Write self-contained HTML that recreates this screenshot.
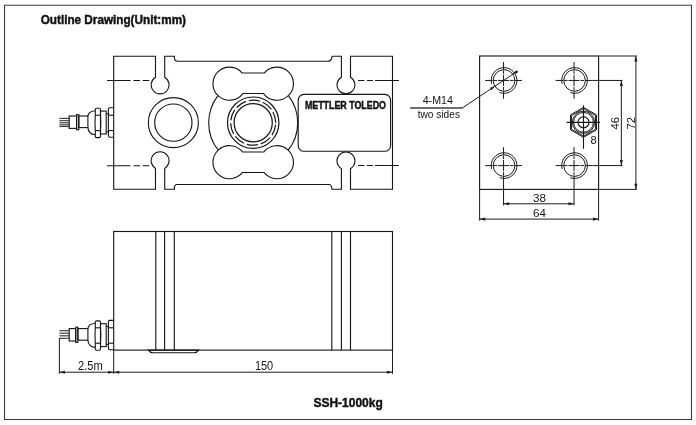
<!DOCTYPE html>
<html lang="en"><head><meta charset="utf-8"><title>Outline Drawing</title>
<style>
html,body{margin:0;padding:0;background:#fff}
svg{display:block;will-change:transform}
.b{fill:none;stroke:#3a3a3a;stroke-width:1.1}
.m{fill:none;stroke:#161616;stroke-width:1.12}
.r{fill:none;stroke:#161616;stroke-width:1.22}
.n{fill:none;stroke:#1e1e1e;stroke-width:1}
.g{fill:none;stroke:#3c3c3c;stroke-width:1.5}
.c{fill:none;stroke:#1a1a1a;stroke-width:1}
.w{fill:none;stroke:#333;stroke-width:1.1}
.ah{fill:#1c1c1c;stroke:none}
.t{font-family:"Liberation Sans",sans-serif;fill:#141414}
.tb{font-family:"Liberation Sans",sans-serif;font-weight:bold;fill:#111;stroke:#111;stroke-width:.45}
</style></head>
<body>
<svg width="696" height="425" viewBox="0 0 696 425">
<rect x="0" y="0" width="696" height="425" fill="#fff"/>
<path class="b" d="M4.5,419.45L4.5,5.25L691.5,5.25L691.5,419.45Z"/>
<text class="tb" x="40.7" y="24.2" font-size="13" textLength="145.3" lengthAdjust="spacingAndGlyphs">Outline Drawing(Unit:mm)</text>
<text class="tb" x="313.4" y="407" font-size="13.7" textLength="69.4" lengthAdjust="spacingAndGlyphs">SSH-1000kg</text>
<path class="m" d="M113.7,189.2L113.7,56.3L155.5,56.3L155.5,77.27A8.95,8.95 0 1 0 164.7,77.27L164.7,56.3L174.4,56.3L174.4,58.3Q174.6,61.3 178.2,61.3L327.6,61.3Q331.4,61.3 331.8,57.4L332.1,56.3L341.4,56.3L341.4,77.24A8.95,8.95 0 1 0 350.5,77.24L350.5,56.3L392.5,56.3L392.5,189.2L350.5,189.2L350.5,168.71A8.95,8.95 0 1 0 341.4,168.71L341.4,189.2L332,189.2L331.5,186.4L329.8,184.5L176.1,184.5L174.4,186.4L174.4,189.2L164.7,189.2L164.7,168.43A8.95,8.95 0 1 0 155.5,168.43L155.5,189.2Z"/>
<line class="m" x1="107" y1="80.5" x2="149.3" y2="80.5" stroke-dasharray="23.6 3 6.5 2.6 6.6"/>
<line class="m" x1="398.8" y1="80.5" x2="358" y2="80.5" stroke-dasharray="23.7 2.2 6 2.5 6.5"/>
<line class="m" x1="107" y1="165.8" x2="149.3" y2="165.8" stroke-dasharray="23.6 3 6.5 2.6 6.6"/>
<line class="m" x1="398.8" y1="165.5" x2="358" y2="165.5" stroke-dasharray="23.7 2.2 6 2.5 6.5"/>
<circle class="m" cx="173.35" cy="122.65" r="25"/>
<circle class="m" cx="173.35" cy="122.65" r="18.65"/>
<circle class="r" cx="253.2" cy="122.7" r="25.7"/>
<circle class="r" cx="253.2" cy="122.7" r="19.1"/>
<circle class="r" cx="253.2" cy="122.7" r="22.5" stroke-dasharray="11.2 2.94" stroke-dashoffset="-2"/>
<path class="m" d="M242.17,73.05L264.23,73.05A16.55,16.55 0 1 1 263.6,93.55L242.8,93.55A16.55,16.55 0 1 1 242.17,73.05Z"/>
<path class="m" d="M242.49,151.95L263.91,151.95A16.55,16.55 0 1 1 263.91,172.45L242.49,172.45A16.55,16.55 0 1 1 242.49,151.95Z"/>
<path class="m" d="M217.94,95.55A44.5,44.5 0 0 0 218.17,150.14"/>
<path class="m" d="M288.46,95.55A44.5,44.5 0 0 1 288.23,150.14"/>
<rect class="m" x="298.2" y="94.4" width="92.4" height="56.85" rx="5.8" ry="5.8"/>
<text class="tb" x="304.9" y="109.4" font-size="11.3" textLength="81.1" lengthAdjust="spacingAndGlyphs">METTLER TOLEDO</text>
<line class="w" x1="59.4" y1="118.4" x2="69.2" y2="118.4"/>
<line class="w" x1="59.4" y1="120.7" x2="69.2" y2="120.7"/>
<line class="w" x1="59.4" y1="122.8" x2="69.2" y2="122.8"/>
<line class="w" x1="59.4" y1="124.8" x2="69.2" y2="124.8"/>
<line class="w" x1="59.4" y1="126.5" x2="69.2" y2="126.5"/>
<rect class="m" x="69.2" y="116" width="7.4" height="12.4"/>
<rect class="m" x="76.6" y="114.6" width="2.2" height="15.2"/>
<rect class="m" x="78.8" y="116" width="9.1" height="11.6"/>
<path class="m" d="M95,110.7Q88.4,111.4 87.9,116M87.9,127.6Q88.4,134 95,134.8"/>
<path class="m" d="M95.3,109.5Q95.4,108.3 96.4,108.3L99.4,108.3Q100.4,108.3 100.5,109.5L100.5,115.2Q101.1,122.8 100.5,130.6L100.5,136.4Q100.4,137.6 99.4,137.6L96.4,137.6Q95.4,137.6 95.3,136.4L95.3,130.6Q94.7,122.8 95.3,115.2Z"/>
<line class="m" x1="95" y1="115.2" x2="100.8" y2="115.2"/>
<line class="m" x1="95" y1="130.6" x2="100.8" y2="130.6"/>
<rect class="m" x="100.5" y="111.1" width="5.7" height="22.9"/>
<path class="m" d="M113.7,107.8L109.5,107.8Q108.5,108 108.4,109.2L108.4,135.8Q108.5,137 109.5,137.2L113.7,137.2"/>
<line class="m" x1="106.2" y1="113.8" x2="108.4" y2="113.8"/>
<line class="m" x1="106.2" y1="131.8" x2="108.4" y2="131.8"/>
<line class="m" x1="108.4" y1="115.2" x2="113.7" y2="115.2"/>
<line class="m" x1="108.4" y1="130.6" x2="113.7" y2="130.6"/>
<rect class="m" x="479.6" y="56.0" width="119" height="133.4"/>
<circle class="c" cx="504.05" cy="80.45" r="10.8"/>
<path class="c" d="M491.64,83.78A12.85,12.85 0 1 1 499.66,92.53"/>
<line class="c" x1="485.15" y1="80.45" x2="521.95" y2="80.45" stroke-dasharray="7.5 .9 3.5 .9 11.2 .9 3.5 .9 7.5"/>
<line class="c" x1="503.55" y1="62.05" x2="503.55" y2="98.85" stroke-dasharray="7.5 .9 3.5 .9 11.2 .9 3.5 .9 7.5"/>
<circle class="c" cx="574.55" cy="80.45" r="10.8"/>
<path class="c" d="M562.14,83.78A12.85,12.85 0 1 1 570.16,92.53"/>
<line class="c" x1="555.65" y1="80.45" x2="592.45" y2="80.45" stroke-dasharray="7.5 .9 3.5 .9 11.2 .9 3.5 .9 7.5"/>
<line class="c" x1="574.05" y1="62.05" x2="574.05" y2="98.85" stroke-dasharray="7.5 .9 3.5 .9 11.2 .9 3.5 .9 7.5"/>
<circle class="c" cx="504.05" cy="165.6" r="10.8"/>
<path class="c" d="M491.64,168.93A12.85,12.85 0 1 1 499.66,177.68"/>
<line class="c" x1="485.15" y1="165.6" x2="521.95" y2="165.6" stroke-dasharray="7.5 .9 3.5 .9 11.2 .9 3.5 .9 7.5"/>
<line class="c" x1="503.55" y1="147.2" x2="503.55" y2="184" stroke-dasharray="7.5 .9 3.5 .9 11.2 .9 3.5 .9 7.5"/>
<circle class="c" cx="574.55" cy="165.6" r="10.8"/>
<path class="c" d="M562.14,168.93A12.85,12.85 0 1 1 570.16,177.68"/>
<line class="c" x1="555.65" y1="165.6" x2="592.45" y2="165.6" stroke-dasharray="7.5 .9 3.5 .9 11.2 .9 3.5 .9 7.5"/>
<line class="c" x1="574.05" y1="147.2" x2="574.05" y2="184" stroke-dasharray="7.5 .9 3.5 .9 11.2 .9 3.5 .9 7.5"/>
<polygon class="n" points="583.5,107.35 596.49,114.85 596.49,129.85 583.5,137.35 570.51,129.85 570.51,114.85"/>
<polygon class="n" points="583.5,108.55 595.45,115.45 595.45,129.25 583.5,136.15 571.55,129.25 571.55,115.45"/>
<circle class="n" cx="583.5" cy="122.35" r="11.1"/>
<circle class="n" cx="583.5" cy="122.35" r="9.9"/>
<circle class="m" cx="583.5" cy="122.35" r="5.5"/>
<line class="m" x1="566.5" y1="122.35" x2="600" y2="122.35"/>
<line class="m" x1="583.5" y1="105.3" x2="583.5" y2="148.8"/>
<text class="t" x="593.6" y="143.9" font-size="11.2" text-anchor="middle">8</text>
<line class="n" x1="598.6" y1="56" x2="637" y2="56"/>
<line class="c" x1="592.45" y1="80.45" x2="622.5" y2="80.45"/>
<line class="c" x1="592.45" y1="165.6" x2="622.5" y2="165.6"/>
<line class="n" x1="621.35" y1="80.45" x2="621.35" y2="165.6"/>
<polygon class="ah" points="621.35,80.45 622.9,86.05 619.8,86.05"/>
<polygon class="ah" points="621.35,165.6 619.8,160 622.9,160"/>
<line class="n" x1="598.6" y1="189.4" x2="637" y2="189.4"/>
<line class="n" x1="635.9" y1="56" x2="635.9" y2="189.4"/>
<polygon class="ah" points="635.9,56 637.45,61.6 634.35,61.6"/>
<polygon class="ah" points="635.9,189.4 634.35,183.8 637.45,183.8"/>
<text class="t" x="619" y="123.2" font-size="11" textLength="12.6" lengthAdjust="spacingAndGlyphs" text-anchor="middle" transform="rotate(-90 619 123.2)">46</text>
<text class="t" x="634.6" y="123.2" font-size="11" textLength="12.6" lengthAdjust="spacingAndGlyphs" text-anchor="middle" transform="rotate(-90 634.6 123.2)">72</text>
<line class="c" x1="503.55" y1="184" x2="503.55" y2="205.4"/>
<line class="c" x1="574.05" y1="184" x2="574.05" y2="205.4"/>
<line class="n" x1="503.55" y1="203.8" x2="574.05" y2="203.8"/>
<polygon class="ah" points="503.55,203.8 509.15,202.25 509.15,205.35"/>
<polygon class="ah" points="574.05,203.8 568.45,205.35 568.45,202.25"/>
<line class="n" x1="479.6" y1="189.4" x2="479.6" y2="220.6"/>
<line class="n" x1="598.6" y1="189.4" x2="598.6" y2="220.6"/>
<line class="n" x1="479.6" y1="219.1" x2="598.6" y2="219.1"/>
<polygon class="ah" points="479.6,219.1 485.2,217.55 485.2,220.65"/>
<polygon class="ah" points="598.6,219.1 593,220.65 593,217.55"/>
<text class="t" x="539.4" y="201.9" font-size="11" textLength="12.9" lengthAdjust="spacingAndGlyphs" text-anchor="middle">38</text>
<text class="t" x="539.4" y="216.5" font-size="11" textLength="12.9" lengthAdjust="spacingAndGlyphs" text-anchor="middle">64</text>
<line class="g" x1="410.2" y1="108" x2="462.6" y2="108"/>
<line class="n" x1="462.4" y1="107.9" x2="518" y2="70.85"/>
<polygon class="ah" points="494.73,86.33 491.57,90.25 489.91,87.75"/>
<polygon class="ah" points="512.37,74.57 516.19,70.21 517.86,72.71"/>
<text class="t" x="422.7" y="104.4" font-size="11.2" textLength="30.2" lengthAdjust="spacingAndGlyphs">4-M14</text>
<text class="t" x="417.7" y="117.9" font-size="11" textLength="42.3" lengthAdjust="spacingAndGlyphs">two sides</text>
<rect class="m" x="113.7" y="231.5" width="278.8" height="118.6"/>
<line class="m" x1="155.8" y1="231.5" x2="155.8" y2="350.1"/>
<line class="m" x1="164.6" y1="231.5" x2="164.6" y2="350.1"/>
<line class="m" x1="174.3" y1="231.5" x2="174.3" y2="350.1"/>
<line class="m" x1="331.8" y1="231.5" x2="331.8" y2="350.1"/>
<line class="m" x1="341.4" y1="231.5" x2="341.4" y2="350.1"/>
<line class="m" x1="350.5" y1="231.5" x2="350.5" y2="350.1"/>
<path class="m" d="M147.5,350.1L199.3,350.1M148.5,350.1Q150,352.7 153,352.7L194,352.7Q197,352.7 198.5,350.1"/>
<line class="w" x1="59.4" y1="330.7" x2="69.2" y2="330.7"/>
<line class="w" x1="59.4" y1="333.2" x2="69.2" y2="333.2"/>
<line class="w" x1="59.4" y1="335.8" x2="69.2" y2="335.8"/>
<line class="w" x1="59.4" y1="338.3" x2="69.2" y2="338.3"/>
<rect class="m" x="69.2" y="328.6" width="6.5" height="12.4"/>
<rect class="m" x="75.7" y="327.2" width="2.2" height="15.2"/>
<rect class="m" x="77.9" y="328.6" width="10" height="11.6"/>
<path class="m" d="M95,323.3Q88.4,324 87.9,328.6M87.9,340.2Q88.4,346.6 95,347.4"/>
<path class="m" d="M95.3,322.1Q95.4,320.9 96.4,320.9L99.4,320.9Q100.4,320.9 100.5,322.1L100.5,327.8Q101.1,335.4 100.5,343.2L100.5,349Q100.4,350.2 99.4,350.2L96.4,350.2Q95.4,350.2 95.3,349L95.3,343.2Q94.7,335.4 95.3,327.8Z"/>
<line class="m" x1="95" y1="327.8" x2="100.8" y2="327.8"/>
<line class="m" x1="95" y1="343.2" x2="100.8" y2="343.2"/>
<rect class="m" x="100.5" y="323.7" width="5.7" height="22.9"/>
<path class="m" d="M113.7,320.4L109.5,320.4Q108.5,320.6 108.4,321.8L108.4,348.4Q108.5,349.6 109.5,349.8L113.7,349.8"/>
<line class="m" x1="106.2" y1="326.4" x2="108.4" y2="326.4"/>
<line class="m" x1="106.2" y1="344.4" x2="108.4" y2="344.4"/>
<line class="m" x1="108.4" y1="327.8" x2="113.7" y2="327.8"/>
<line class="m" x1="108.4" y1="343.2" x2="113.7" y2="343.2"/>
<line class="n" x1="59.4" y1="338" x2="59.4" y2="373.8"/>
<line class="n" x1="113.7" y1="350.1" x2="113.7" y2="373.8"/>
<line class="n" x1="392.5" y1="350.1" x2="392.5" y2="373.8"/>
<line class="n" x1="59.4" y1="372.2" x2="392.5" y2="372.2"/>
<polygon class="ah" points="59.4,372.2 65,370.65 65,373.75"/>
<polygon class="ah" points="113.7,372.2 108.1,373.75 108.1,370.65"/>
<polygon class="ah" points="113.7,372.2 119.3,370.65 119.3,373.75"/>
<polygon class="ah" points="392.5,372.2 386.9,373.75 386.9,370.65"/>
<text class="t" x="78" y="369.5" font-size="12" textLength="24.7" lengthAdjust="spacingAndGlyphs">2.5m</text>
<text class="t" x="254.9" y="369.6" font-size="12" textLength="18.3" lengthAdjust="spacingAndGlyphs">150</text>
</svg>
</body></html>
